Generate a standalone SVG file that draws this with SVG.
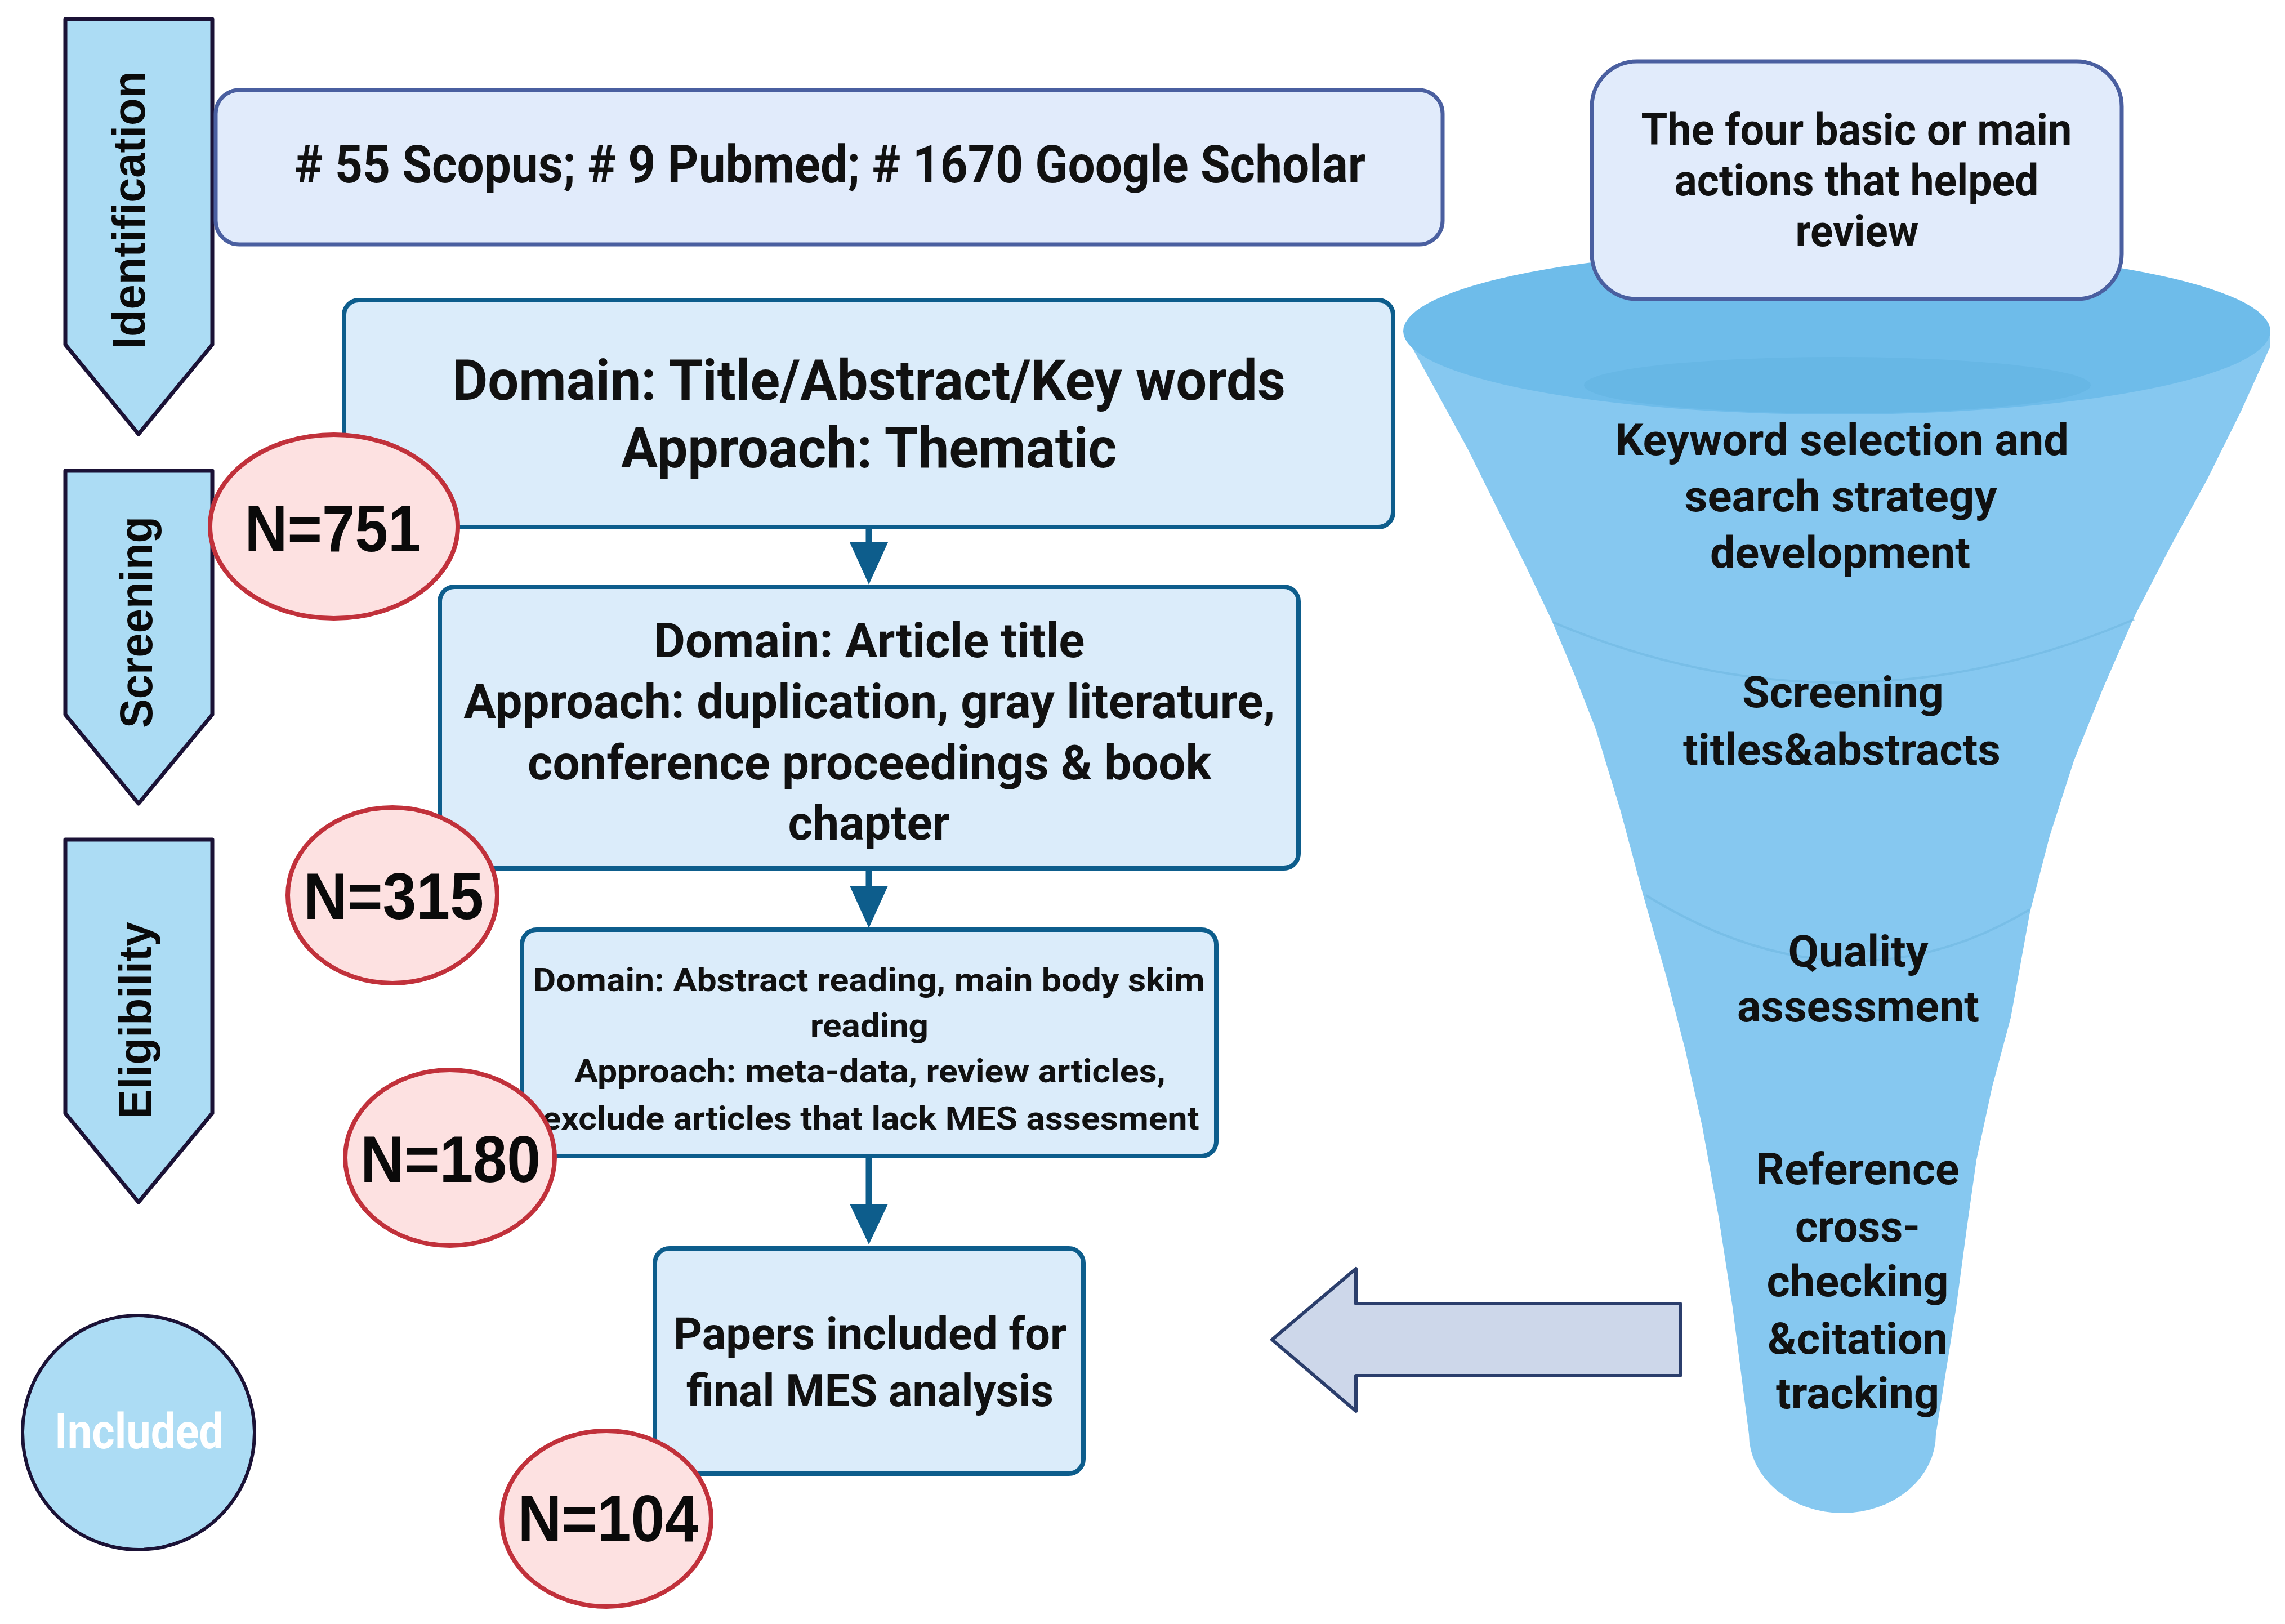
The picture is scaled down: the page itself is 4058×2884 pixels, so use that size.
<svg xmlns="http://www.w3.org/2000/svg" width="4058" height="2884" viewBox="0 0 4058 2884">
<style>
.stage{fill:#acdcf4;stroke:#1b1236;stroke-width:7;stroke-linejoin:round}
.vlab{font-family:"Liberation Sans",Arial,sans-serif;font-weight:bold;font-size:82px;fill:#0a0a0a;text-anchor:middle}
.ibox{fill:#e1ebfb;stroke:#4a5fa0;stroke-width:7}
.fbox{fill:#dbecfa;stroke:#0d5d8c;stroke-width:8}
.t{font-family:Roboto,"Liberation Sans",Arial,sans-serif;font-weight:bold;fill:#111;text-anchor:middle}
.nell{fill:#fde1e1;stroke:#c1313b;stroke-width:8}
.nlab{font-family:"Liberation Sans",Arial,sans-serif;font-weight:bold;font-size:116px;fill:#0a0a0a;text-anchor:middle}
.conn{stroke:#0d5d8c;stroke-width:11;fill:none}
.head{fill:#0d5d8c}
.div{fill:none;stroke:#72b9e3;stroke-width:4;opacity:0.7}
</style>

<g id="stage-identification">
<polygon class="stage" points="116,34 377,34 377,612 246,771 116,612"/>
<text class="vlab" x="257" y="373" transform="rotate(-90 257 373)" textLength="494" lengthAdjust="spacingAndGlyphs">Identification</text>
</g>
<g id="stage-screening">
<polygon class="stage" points="116,836 377,836 377,1269 246,1427 116,1269"/>
<text class="vlab" x="270" y="1105" transform="rotate(-90 270 1105)" textLength="376" lengthAdjust="spacingAndGlyphs">Screening</text>
</g>
<g id="stage-eligibility">
<polygon class="stage" points="116,1491 377,1491 377,1977 246,2135 116,1977"/>
<text class="vlab" x="268" y="1812" transform="rotate(-90 268 1812)" textLength="350" lengthAdjust="spacingAndGlyphs">Eligibility</text>
</g>
<g id="stage-included">
<ellipse class="stage" cx="246" cy="2544" rx="206" ry="208" style="stroke-width:6"/>
<text class="t" x="247" y="2572" font-size="87" fill="#ffffff" style="fill:#ffffff" textLength="300" lengthAdjust="spacingAndGlyphs">Included</text>
</g>

<g id="funnel">
<path fill="#86c8f0" d="M 2493 590 L 2560 712 L 2607 798 L 2660 905 L 2711 1008 L 2755 1100 L 2795 1195 L 2834 1295 L 2878 1440 L 2918 1589 L 2960 1737 L 2993 1865 L 3023 2000 L 3052 2160 L 3077 2322 L 3106 2547 A 166 140 0 0 0 3438 2547 L 3474 2322 L 3493 2180 L 3510 2060 L 3538 1930 L 3571 1807 L 3605 1620 L 3640 1485 L 3683 1351 L 3735 1222 L 3789 1098 L 3855 970 L 3920 851 L 3980 730 L 4032 615 L 4032 590 Z"/>
<ellipse cx="3262" cy="588" rx="770" ry="148" fill="#6ebcea"/>
<ellipse cx="3263" cy="684" rx="450" ry="50" fill="#67b7e5"/>
<path class="div" d="M 2758 1105 Q 3270 1322 3790 1100"/>
<path class="div" d="M 2923 1590 Q 3280 1810 3605 1615"/>
<text class="t" font-size="78" x="3271" y="808" textLength="806" lengthAdjust="spacingAndGlyphs">Keyword selection and</text>
<text class="t" font-size="78" x="3269" y="908" textLength="555" lengthAdjust="spacingAndGlyphs">search strategy</text>
<text class="t" font-size="78" x="3268" y="1008" textLength="462" lengthAdjust="spacingAndGlyphs">development</text>
<text class="t" font-size="78" x="3273" y="1256" textLength="358" lengthAdjust="spacingAndGlyphs">Screening</text>
<text class="t" font-size="78" x="3271" y="1358" textLength="564" lengthAdjust="spacingAndGlyphs">titles&amp;abstracts</text>
<text class="t" font-size="78" x="3300" y="1716" textLength="249" lengthAdjust="spacingAndGlyphs">Quality</text>
<text class="t" font-size="78" x="3300" y="1814" textLength="430" lengthAdjust="spacingAndGlyphs">assessment</text>
<text class="t" font-size="78" x="3299" y="2103" textLength="361" lengthAdjust="spacingAndGlyphs">Reference</text>
<text class="t" font-size="78" x="3299" y="2205" textLength="222" lengthAdjust="spacingAndGlyphs">cross-</text>
<text class="t" font-size="78" x="3299" y="2302" textLength="323" lengthAdjust="spacingAndGlyphs">checking</text>
<text class="t" font-size="78" x="3299" y="2404" textLength="320" lengthAdjust="spacingAndGlyphs">&amp;citation</text>
<text class="t" font-size="78" x="3299" y="2501" textLength="290" lengthAdjust="spacingAndGlyphs">tracking</text>
</g>

<g id="actions-box">
<rect class="ibox" x="2827" y="109" width="941" height="422" rx="80" ry="80"/>
<text class="t" font-size="78" x="3297" y="257" textLength="765" lengthAdjust="spacingAndGlyphs">The four basic or main</text>
<text class="t" font-size="78" x="3297" y="347" textLength="647" lengthAdjust="spacingAndGlyphs">actions that helped</text>
<text class="t" font-size="78" x="3298" y="437" textLength="219" lengthAdjust="spacingAndGlyphs">review</text>
</g>

<g id="sources-box">
<rect class="ibox" x="383" y="160" width="2179" height="274" rx="42" ry="42"/>
<text class="t" font-size="93" x="1474" y="324" textLength="1902" lengthAdjust="spacingAndGlyphs"># 55 Scopus; # 9 Pubmed; # 1670 Google Scholar</text>
</g>

<g id="connectors">
<line class="conn" x1="1543" y1="936" x2="1543" y2="966"/>
<polygon class="head" points="1509,963 1577,963 1543,1038"/>
<line class="conn" x1="1543" y1="1542" x2="1543" y2="1576"/>
<polygon class="head" points="1509,1573 1577,1573 1543,1648"/>
<line class="conn" x1="1543" y1="2053" x2="1543" y2="2141"/>
<polygon class="head" points="1509,2138 1577,2138 1543,2210"/>
<polygon points="2259,2379 2408,2253 2408,2315 2984,2315 2984,2443 2408,2443 2408,2506" fill="#cdd7ea" stroke="#2b3e6c" stroke-width="6" stroke-linejoin="round"/>
</g>

<g id="box-title-abstract">
<rect class="fbox" x="611" y="533" width="1863" height="403" rx="26" ry="26"/>
<text class="t" font-size="100" x="1543" y="710" textLength="1480" lengthAdjust="spacingAndGlyphs">Domain: Title/Abstract/Key words</text>
<text class="t" font-size="100" x="1543" y="830" textLength="880" lengthAdjust="spacingAndGlyphs">Approach: Thematic</text>
</g>
<g id="box-article-title">
<rect class="fbox" x="781" y="1042" width="1525" height="500" rx="26" ry="26"/>
<text class="t" font-size="85" x="1544" y="1167" textLength="765" lengthAdjust="spacingAndGlyphs">Domain: Article title</text>
<text class="t" font-size="85" x="1544" y="1275" textLength="1441" lengthAdjust="spacingAndGlyphs">Approach: duplication, gray literature,</text>
<text class="t" font-size="85" x="1544" y="1384" textLength="1214" lengthAdjust="spacingAndGlyphs">conference proceedings &amp; book</text>
<text class="t" font-size="85" x="1543" y="1491" textLength="287" lengthAdjust="spacingAndGlyphs">chapter</text>
</g>
<g id="box-abstract-reading">
<rect class="fbox" x="927" y="1651" width="1233" height="402" rx="26" ry="26"/>
<text class="t" font-size="58" x="1543" y="1760" textLength="1193" lengthAdjust="spacingAndGlyphs">Domain: Abstract reading, main body skim</text>
<text class="t" font-size="58" x="1544" y="1841" textLength="210" lengthAdjust="spacingAndGlyphs">reading</text>
<text class="t" font-size="58" x="1545" y="1922" textLength="1050" lengthAdjust="spacingAndGlyphs">Approach: meta-data, review articles,</text>
<text class="t" font-size="58" x="1546" y="2006" textLength="1167" lengthAdjust="spacingAndGlyphs">exclude articles that lack MES assesment</text>
</g>
<g id="box-final">
<rect class="fbox" x="1163" y="2217" width="761" height="400" rx="26" ry="26"/>
<text class="t" font-size="80" x="1545" y="2396" textLength="698" lengthAdjust="spacingAndGlyphs">Papers included for</text>
<text class="t" font-size="80" x="1545" y="2497" textLength="652" lengthAdjust="spacingAndGlyphs">final MES analysis</text>
</g>

<g id="n751">
<ellipse class="nell" cx="593" cy="935" rx="220" ry="163"/>
<text class="nlab" x="591" y="979" textLength="313" lengthAdjust="spacingAndGlyphs">N=751</text>
</g>
<g id="n315">
<ellipse class="nell" cx="697" cy="1590" rx="186" ry="156"/>
<text class="nlab" x="699" y="1632" textLength="320" lengthAdjust="spacingAndGlyphs">N=315</text>
</g>
<g id="n180">
<ellipse class="nell" cx="799" cy="2056" rx="186" ry="156"/>
<text class="nlab" x="800" y="2099" textLength="320" lengthAdjust="spacingAndGlyphs">N=180</text>
</g>
<g id="n104">
<ellipse class="nell" cx="1077" cy="2697" rx="186" ry="156"/>
<text class="nlab" x="1080" y="2737" textLength="321" lengthAdjust="spacingAndGlyphs">N=104</text>
</g>
</svg>
